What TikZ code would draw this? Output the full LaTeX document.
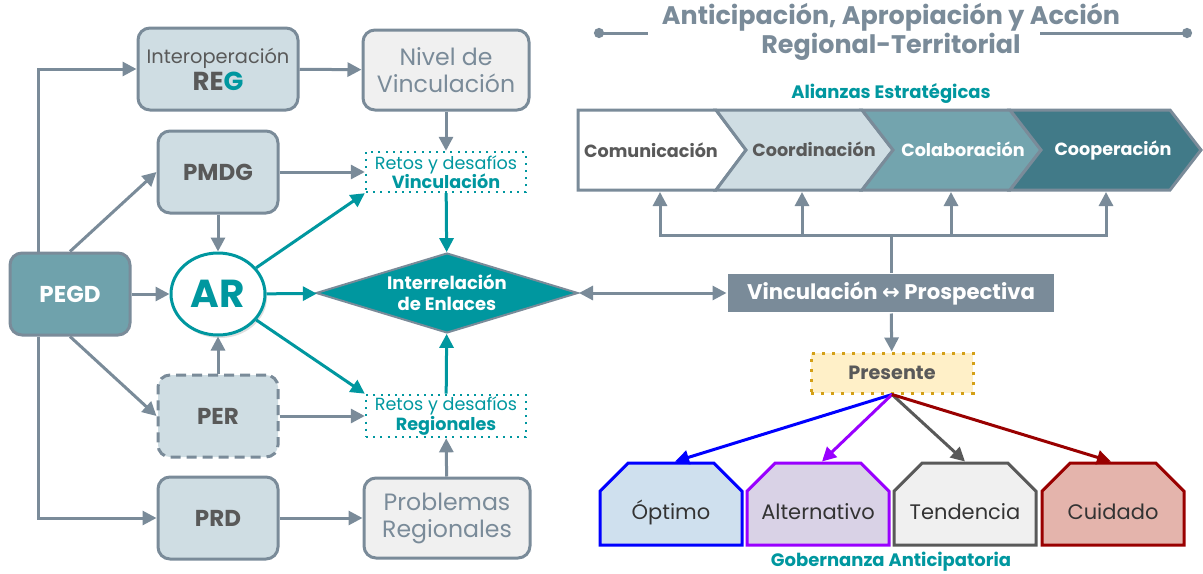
\documentclass[tikz,border=0pt]{standalone}
\usepackage{fontspec}
\setmainfont{Poppins}
\newfontfamily\symfont{DejaVu Sans}
\usetikzlibrary{arrows.meta,shapes.geometric,shapes.misc,shadows}
\definecolor{slate}{HTML}{7A8B99}
\definecolor{tealc}{HTML}{00979F}
\definecolor{boxfill}{HTML}{CFDDE3}
\definecolor{lightg}{HTML}{F0F0F0}
\definecolor{pegdfill}{HTML}{6FA2AC}
\definecolor{txtgray}{HTML}{595959}
\definecolor{chev3}{HTML}{73A4AE}
\definecolor{chev4}{HTML}{417A88}
\definecolor{gold}{HTML}{D4A017}
\definecolor{cream}{HTML}{FFF0C8}
\definecolor{optfill}{HTML}{CFE0EE}
\definecolor{altfill}{HTML}{D9D2E6}
\definecolor{cuifill}{HTML}{E4B4AC}
\definecolor{purp}{HTML}{9900FF}
\definecolor{dred}{HTML}{990000}

\begin{document}
\begin{tikzpicture}[x=0.5pt, y=-0.5pt, line width=1.5pt,
  >={Triangle[length=7pt,width=7pt]},
  pbox/.style={draw=slate, fill=boxfill, rounded corners=6pt, minimum width=60pt, minimum height=41pt, align=center, text=txtgray, font=\bfseries\fontsize{11.5}{13}\selectfont},
  gbox/.style={draw=slate, fill=lightg, rounded corners=6pt, minimum width=83pt, minimum height=40pt, align=center, text=slate, font=\fontsize{11.8}{13.5}\selectfont},
  retos/.style={draw=tealc, line width=1.2pt, dash pattern=on 1pt off 2.6pt, minimum width=80pt, minimum height=20pt, inner sep=1pt, align=center, text=tealc, font=\fontsize{8.8}{9.8}\selectfont},
  conn/.style={->, draw=slate},
  tconn/.style={->, draw=tealc},
  escen/.style={chamfered rectangle, chamfered rectangle corners={north west,north east}, chamfered rectangle xsep=11pt, minimum width=71pt, minimum height=41pt, text height=15pt, text depth=0pt, text=black!80, font=\fontsize{10.5}{12}\selectfont},
  etq/.style={text=tealc, font=\bfseries\fontsize{9}{10}\selectfont},
  chev/.style={font=\bfseries\fontsize{8.8}{10}\selectfont}]
\useasboundingbox (0,0) rectangle (1203,573);

% left part
\node [pbox, minimum width=80pt, font=\fontsize{9.7}{12}\selectfont] (reg) at (218,69) {Interoperación\\[1.5pt]{\bfseries\fontsize{13}{13}\selectfont RE\textcolor{tealc}{G}}};
\node [gbox] (niv) at (446,70) {Nivel de\\Vinculación};
\node [pbox] (pmdg) at (218,172) {PMDG};
\node [retos] (rv) at (446,172) {Retos y desafíos\\\textbf{Vinculación}};
\node [pbox, fill=pegdfill, text=white] (pegd) at (70,294) {PEGD};
\node [ellipse, draw=tealc, fill=white, minimum width=47pt, minimum height=41pt, inner sep=1pt, text=tealc, font=\bfseries\fontsize{19.5}{20}\selectfont, drop shadow={opacity=0.25, shadow xshift=1pt, shadow yshift=-1.5pt}] (ar) at (218,294) {AR};
\node [diamond, aspect=3.3, inner sep=0pt, draw=slate, line width=1pt, fill=tealc, minimum width=131pt, minimum height=40pt, align=center, text=white, font=\bfseries\fontsize{9}{10.5}\selectfont] (dia) at (447,293) {Interrelación\\de Enlaces};
\node [pbox, dash pattern=on 5pt off 3pt] (per) at (218,416) {PER};
\node [retos] (rr) at (446,416) {Retos y desafíos\\\textbf{Regionales}};
\node [pbox] (prd) at (218,518) {PRD};
\node [gbox] (prob) at (447,518) {Problemas\\Regionales};

\draw [conn] ([xshift=15pt]pegd.north west) |- (reg.west);
\draw [conn] (pegd.north) -- (pmdg.west);
\draw [conn] (pegd) -- (ar);
\draw [conn] (pegd.south) -- (per.west);
\draw [conn] ([xshift=15pt]pegd.south west) |- (prd.west);
\draw [conn] (reg) -- (niv);
\draw [conn] (niv) -- (rv);
\draw [conn] (pmdg) -- (rv);
\draw [conn] (pmdg) -- (ar);
\draw [conn] (per) -- (ar);
\draw [conn] (per) -- (rr);
\draw [conn] (prd) -- (prob);
\draw [conn] (prob) -- (rr);
\draw [tconn] (ar) -- (rv.south west);
\draw [tconn] (ar) -- (dia);
\draw [tconn] (ar) -- (rr.north west);
\draw [tconn] (rv) -- (dia);
\draw [tconn] (rr) -- (dia);

% right part
\node [text=slate, align=center, font=\bfseries\fontsize{12.7}{13.5}\selectfont] (tit) at (891,32) {Anticipación, Apropiación y Acción\\Regional-Territorial};
\draw [slate, {Circle[length=5pt,width=5pt]}-] (594,33) -- (648,33);
\draw [slate, -{Circle[length=5pt,width=5pt]}] (1040,33) -- (1192,33);
\node [etq] (ali) at (891,93) {Alianzas Estratégicas};

\draw [slate, fill=white] (578,110) -- (716,110) -- (746,150) -- (716,190) -- (578,190) -- cycle;
\draw [slate, fill=boxfill] (716,110) -- (862,110) -- (893,150) -- (862,190) -- (716,190) -- (746,150) -- cycle;
\draw [slate, fill=chev3] (862,110) -- (1010,110) -- (1041,150) -- (1010,190) -- (862,190) -- (893,150) -- cycle;
\draw [slate, fill=chev4] (1010,110) -- (1170,110) -- (1201,150) -- (1170,190) -- (1010,190) -- (1041,150) -- cycle;
\node [chev, text=txtgray] (com) at (651,150) {Comunicación};
\node [chev, text=txtgray] (coo) at (814,149) {Coordinación};
\node [chev, text=white] (col) at (963,149) {Colaboración};
\node [chev, text=white] (cop) at (1113,150) {Cooperación};

\node [fill=slate, minimum width=163pt, minimum height=19pt, text=white, font=\bfseries\fontsize{10.6}{12}\selectfont] (vp) at (891,293) {Vinculación {\symfont ↔} Prospectiva};
\coordinate (bus) at (891,235);
\coordinate (c1) at (660,192);
\coordinate (c2) at (802,192);
\coordinate (c3) at (951,192);
\coordinate (c4) at (1106,192);
\draw [slate] (vp) -- (bus);
\draw [conn] (bus) -| (c1);
\draw [conn] (bus) -| (c2);
\draw [conn] (bus) -| (c3);
\draw [conn] (bus) -| (c4);
\draw [conn, <->] (dia) -- (vp);

\node [draw=gold, fill=cream, dash pattern=on 1.5pt off 3.5pt, minimum width=81pt, minimum height=20pt, text=txtgray, font=\bfseries\fontsize{9.6}{11}\selectfont] (pres) at (892,373) {Presente};
\draw [conn] (vp) -- (pres);

\node [escen, draw=blue, fill=optfill] (opt) at (671,504) {\makebox[0pt]{Óptimo}};
\node [escen, draw=purp, fill=altfill] (alt) at (818,504) {\makebox[0pt]{Alternativo}};
\node [escen, draw=txtgray, fill=lightg] (ten) at (965,504) {\makebox[0pt]{Tendencia}};
\node [escen, draw=dred, fill=cuifill] (cui) at (1113,504) {\makebox[0pt]{Cuidado}};
\draw [->, blue] (pres.south) -- ([xshift=2pt]opt.north);
\draw [->, purp] (pres.south) -- ([xshift=2pt]alt.north);
\draw [->, txtgray] (pres.south) -- (ten.north);
\draw [->, dred] (pres.south) -- ([xshift=-1pt]cui.north);
\node [etq] (gob) at (891,562) {Gobernanza Anticipatoria};
\end{tikzpicture}
\end{document}
